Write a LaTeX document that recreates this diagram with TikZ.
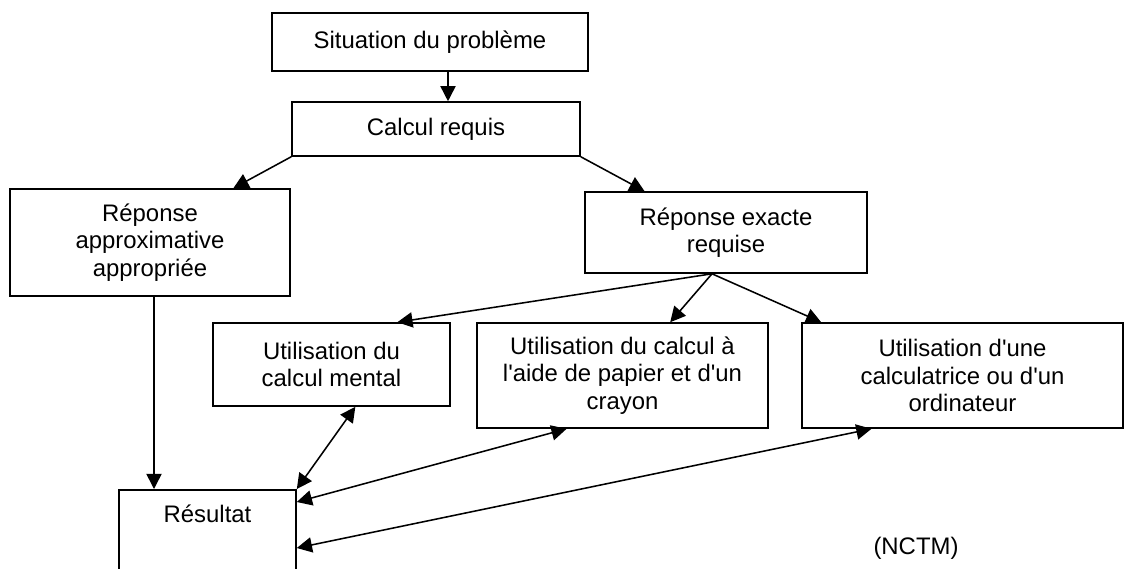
\documentclass[tikz,border=0pt]{standalone}
\usepackage{fontspec}
\setmainfont{Liberation Sans}[Ligatures=TeXOff]
\usetikzlibrary{arrows.meta, calc}

\begin{document}
\begin{tikzpicture}[x=0.025cm, y=-0.025cm,
    box/.style={draw, line width=1.1pt, align=center, inner sep=0pt, font=\fontsize{17}{19.4}\selectfont},
    arr/.style={-{Triangle[length=0.38cm, width=0.38cm]}, line width=1.1pt},
    darr/.style={{Triangle[length=0.38cm, width=0.38cm]}-{Triangle[length=0.38cm, width=0.38cm]}, line width=1.1pt}]
  \clip (0,0) rectangle (1125,568);

  % Nodes
  \node[box, minimum width=7.9cm, minimum height=1.45cm] (sit) at (430,42) {Situation du problème};
  \node[box, minimum width=7.2cm, minimum height=1.35cm] (calc) at (436,129) {Calcul requis};
  \node[box, minimum width=7cm, minimum height=2.675cm] (approx) at (150,242.5) {Réponse\\approximative\\appropriée};
  \node[box, minimum width=7.05cm, minimum height=2.025cm] (exact) at (726,232.5) {Réponse exacte\\requise};
  \node[box, minimum width=5.925cm, minimum height=2.075cm] (mental) at (331.5,364.5) {Utilisation du\\calcul mental};
  \node[box, minimum width=7.275cm, minimum height=2.625cm] (paper) at (622.5,375.5) {Utilisation du calcul à\\l'aide de papier et d'un\\crayon};
  \node[box, minimum width=8.025cm, minimum height=2.625cm] (calcr) at (962.5,375.5) {Utilisation d'une\\calculatrice ou d'un\\ordinateur};
  \node[box, minimum width=4.425cm, anchor=north, inner ysep=0.41cm, text height=0.4cm, text depth=1.5cm] (result) at (207.5,489) {Résultat};
  \node[font=\fontsize{17}{19.4}\selectfont] (nctm) at (916,548) {(NCTM)};

  % Edges
  \draw[arr] ([xshift=0.45cm]sit.south) -- ([xshift=0.45cm]sit.south |- calc.north);
  \draw[arr] (calc.south west) -- ($(approx.north west)!0.796!(approx.north east)$);
  \draw[arr] (calc.south east) -- ($(exact.north west)!0.213!(exact.north east)$);
  \draw[arr] ([xshift=-0.35cm]exact.south) -- ($(mental.north west)!0.776!(mental.north east)$);
  \draw[arr] ([xshift=-0.35cm]exact.south) -- ($(paper.north west)!0.663!(paper.north east)$);
  \draw[arr] ([xshift=-0.35cm]exact.south) -- ($(calcr.north west)!0.062!(calcr.north east)$);
  \draw[arr] ([xshift=0.1cm]approx.south) -- ([xshift=0.1cm]approx.south |- result.north);
  \draw[darr] (result.north east) -- ($(mental.south west)!0.6!(mental.south east)$);
  \draw[darr] ([yshift=-0.325cm]result.north east) -- ($(paper.south west)!0.309!(paper.south east)$);
  \draw[darr] ([yshift=-1.475cm]result.north east) -- ($(calcr.south west)!0.218!(calcr.south east)$);
\end{tikzpicture}
\end{document}
